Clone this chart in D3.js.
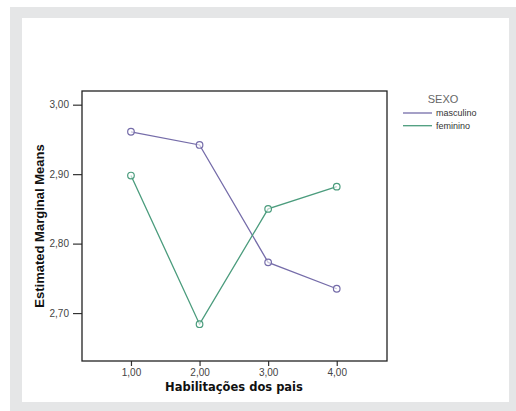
<!DOCTYPE html>
<html><head><meta charset="utf-8">
<script src="https://cdn.jsdelivr.net/npm/d3@7"></script>
<style>body{margin:0;background:#fff}svg{display:block}</style>
</head><body>
<script>
const categories = [1, 2, 3, 4];
const tickLabels = ["1,00", "2,00", "3,00", "4,00"];
const yTicks = [2.70, 2.80, 2.90, 3.00];
const yTickLabels = ["2,70", "2,80", "2,90", "3,00"];
const masculino = [2.961, 2.942, 2.773, 2.735];
const feminino = [2.898, 2.684, 2.850, 2.882];
const seriesNames = ["masculino", "feminino"];
const seriesColors = ["#756ca9", "#4b9c7d"];

const W = 516, H = 411;
const svg = d3.select("body").append("svg").attr("width", W).attr("height", H);
// frame
svg.append("rect").attr("x", 10).attr("y", 7).attr("width", 506).attr("height", 404).attr("fill", "#e5e6e7");
svg.append("rect").attr("x", 22).attr("y", 18).attr("width", 487).attr("height", 384).attr("fill", "#fff");

const L = 82, T = 91, R = 387, B = 361;
const x = d3.scaleLinear().domain([0.286, 4.733]).range([L, R]);
const y = d3.scaleLinear().domain([2.631, 3.0197]).range([B, T]);

const g = svg.append("g");
// axes
const xAxis = d3.axisBottom(x).tickValues(categories).tickFormat((d, i) => tickLabels[i]).tickSize(5).tickPadding(3).tickSizeOuter(0);
const yAxis = d3.axisLeft(y).tickValues(yTicks).tickFormat((d, i) => yTickLabels[i]).tickSize(9).tickSizeOuter(0);
const gx = g.append("g").attr("transform", `translate(0,${B})`).call(xAxis);
const gy = g.append("g").attr("transform", `translate(${L},0)`).call(yAxis);
[gx, gy].forEach(a => {
  a.select(".domain").remove();
  a.selectAll("line").attr("stroke", "#333").attr("stroke-width", 1.2);
  a.selectAll("text").attr("fill", "#444").style("font-family", "Liberation Sans, Arial, sans-serif").style("font-size", "10px");
});
gy.selectAll("text").attr("dx", "-1px");
// plot box
g.append("rect").attr("x", L).attr("y", T).attr("width", R - L).attr("height", B - T)
  .attr("fill", "none").attr("stroke", "#222").attr("stroke-width", 1.3);

const series = [masculino, feminino];
const line = d3.line().x((d, i) => x(categories[i])).y(d => y(d));
series.forEach((s, k) => {
  g.append("path").datum(s).attr("d", line).attr("fill", "none").attr("stroke", seriesColors[k]).attr("stroke-width", 1.3);
  g.selectAll(null).data(s).enter().append("circle")
    .attr("cx", (d, i) => x(categories[i])).attr("cy", d => y(d)).attr("r", 3.3)
    .attr("fill", "#fff").attr("fill-opacity", 0.6).attr("stroke", seriesColors[k]).attr("stroke-width", 1.2);
});

// axis titles
svg.append("text").attr("x", 234).attr("y", 391).attr("text-anchor", "middle")
  .style("font-family", "DejaVu Sans, Verdana, sans-serif").style("font-weight", "bold").style("font-size", "11.5px")
  .attr("fill", "#111").text("Habilitações dos pais");
svg.append("text").attr("transform", "translate(44,226) rotate(-90)").attr("text-anchor", "middle")
  .style("font-family", "Liberation Sans Narrow, Arial Narrow, sans-serif").style("font-weight", "bold").style("font-size", "13px")
  .style("font-stretch", "condensed")
  .attr("fill", "#111").text("Estimated Marginal Means");

// legend
svg.append("text").attr("x", 443).attr("y", 103).attr("text-anchor", "middle")
  .style("font-family", "Liberation Sans, Arial, sans-serif").style("font-size", "11px").attr("fill", "#666").text("SEXO");
seriesNames.forEach((n, k) => {
  const yy = 113 + k * 12.7;
  svg.append("line").attr("x1", 403).attr("x2", 432).attr("y1", yy).attr("y2", yy)
    .attr("stroke", seriesColors[k]).attr("stroke-width", 1.3);
  svg.append("text").attr("x", 436).attr("y", yy + 3).style("font-family", "Liberation Sans, Arial, sans-serif")
    .style("font-size", "9px").attr("fill", "#333").text(n);
});
</script>
</body></html>
